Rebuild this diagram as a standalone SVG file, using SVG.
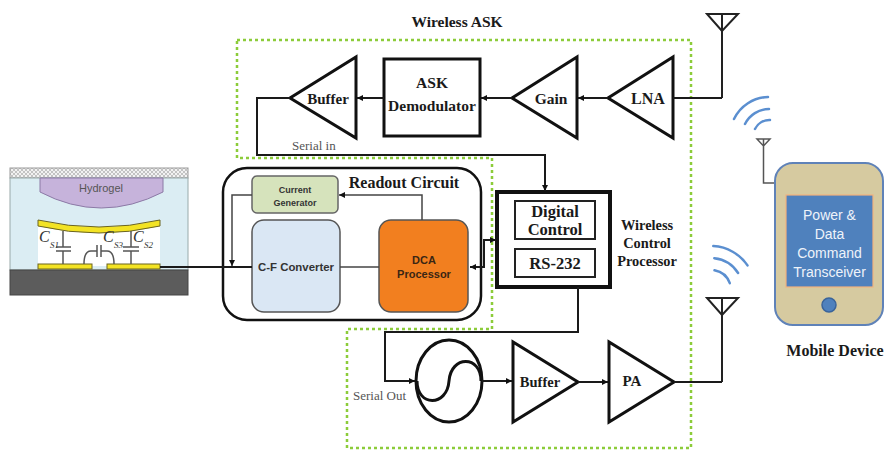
<svg xmlns="http://www.w3.org/2000/svg" width="888" height="452" viewBox="0 0 888 452">
  <defs>
    <marker id="arr" viewBox="0 0 10 10" refX="10" refY="5" markerWidth="6" markerHeight="6" orient="auto-start-reverse" markerUnits="userSpaceOnUse">
      <path d="M0,0 L10,5 L0,10 Z" fill="#111"/>
    </marker>
    <pattern id="hatch" width="4" height="4" patternUnits="userSpaceOnUse">
      <rect width="4" height="4" fill="#f2f2f2"/>
      <path d="M0,0 L4,4 M4,0 L0,4" stroke="#b8b8b8" stroke-width="0.8"/>
    </pattern>
    <style>
      .wire{fill:none;stroke:#1a1a1a;stroke-width:2}
      .thin{fill:none;stroke:#444;stroke-width:1.5}
      .amp{fill:#fff;stroke:#111;stroke-width:3;stroke-linejoin:miter}
      .box{fill:#fff;stroke:#111;stroke-width:3}
      .zone{fill:none;stroke:#8ccc3a;stroke-width:2.5;stroke-dasharray:3 3}
      .ser{font-family:"Liberation Serif","Times New Roman",serif;font-weight:bold;fill:#1a1a1a;text-anchor:middle}
      .lbl{font-family:"Liberation Serif","Times New Roman",serif;fill:#555;font-size:13px}
      .sans{font-family:"Liberation Sans",Arial,sans-serif;font-weight:bold;text-anchor:middle}
      .ant{fill:none;stroke:#222;stroke-width:2}
      .wave{fill:none;stroke:#5b8fd0;stroke-width:2.5;stroke-linecap:round}
      .plate{fill:#f3e324;stroke:#6b6420;stroke-width:1}
      .cap{fill:none;stroke:#555;stroke-width:1.5}
      .cl{font-family:"Liberation Serif","Times New Roman",serif;font-style:italic;fill:#333}
    </style>
  </defs>

  <!-- wireless ASK zone outline -->
  <path class="zone" d="M237,40 H691 V448 H347 V329 H492 V158 H237 Z"/>
  <text class="ser" x="457" y="27" font-size="15.5">Wireless ASK</text>

  <!-- capacitive sensor cross-section -->
  <g id="sensor">
    <rect x="10" y="168" width="178" height="10" fill="url(#hatch)" stroke="#999" stroke-width="1"/>
    <rect x="10" y="178" width="178" height="92" fill="#dbedf3" stroke="#9aa" stroke-width="1"/>
    <rect x="10" y="270" width="178" height="25" fill="#5c5c5c" stroke="#444" stroke-width="1"/>
    <path d="M40,178 H163 V192 Q101,224 40,192 Z" fill="#c6b3db" stroke="#8c7aa6" stroke-width="1"/>
    <text x="101" y="192" font-family="Liberation Sans,Arial,sans-serif" font-size="11" fill="#555" text-anchor="middle">Hydrogel</text>
    <path d="M38,226 Q99,240 160,226 V266 H38 Z" fill="#fff"/>
    <path class="plate" d="M38,220 Q99,234 160,220 L160,226 Q99,240 38,226 Z"/>
    <rect class="plate" x="38" y="264" width="54" height="5"/>
    <rect class="plate" x="107" y="264" width="53" height="5"/>
    <!-- C_S1 -->
    <path class="cap" d="M63,231 V247 M56,247 H71 M56,251 H71 M63,251 V264"/>
    <!-- C_S2 -->
    <path class="cap" d="M131,231 V247 M123,247 H139 M123,251 H139 M131,251 V264"/>
    <!-- C_S3 -->
    <path class="cap" d="M97,245 V257 M101,245 V257 M97,251 H91 Q84,251 84,264 M101,251 H107 Q114,251 114,264"/>
    <text class="cl" x="39" y="242" font-size="16">C</text><text class="cl" x="50" y="248" font-size="9">S1</text>
    <text class="cl" x="103" y="242" font-size="16">C</text><text class="cl" x="114" y="248" font-size="9">S3</text>
    <text class="cl" x="133" y="242" font-size="16">C</text><text class="cl" x="144" y="248" font-size="9">S2</text>
  </g>

  <!-- readout circuit -->
  <g id="readout">
    <rect x="223" y="168" width="258" height="152" rx="24" fill="#fff" stroke="#111" stroke-width="2.5"/>
    <text class="ser" x="404" y="188" font-size="16">Readout Circuit</text>
  </g>
  <g id="current-generator">
    <rect x="252" y="176" width="86" height="37" rx="5" fill="#d6e3bc" stroke="#666" stroke-width="1.5"/>
    <text class="sans" x="295" y="193" font-size="9" fill="#333">Current</text>
    <text class="sans" x="295" y="206" font-size="9" fill="#333">Generator</text>
  </g>
  <g id="cf-converter">
    <rect x="252" y="220" width="88" height="92" rx="12" fill="#dae7f4" stroke="#555" stroke-width="1.5"/>
    <text class="sans" x="296" y="271" font-size="11.4" fill="#333">C-F Converter</text>
  </g>
  <g id="dca-processor">
    <rect x="379" y="220" width="89" height="92" rx="12" fill="#f27f1f" stroke="#555" stroke-width="1.5"/>
    <text class="sans" x="424" y="264" font-size="11" fill="#3a2614">DCA</text>
    <text class="sans" x="424" y="278" font-size="11" fill="#3a2614">Processor</text>
  </g>

  <!-- wireless control processor -->
  <g id="wcp">
    <rect x="497" y="192" width="113" height="95" fill="#fff" stroke="#111" stroke-width="4"/>
    <rect x="515" y="201" width="80" height="38" fill="#fff" stroke="#222" stroke-width="2"/>
    <text class="ser" x="555" y="217" font-size="16.5">Digital</text>
    <text class="ser" x="555" y="235" font-size="16.5">Control</text>
    <rect x="515" y="249" width="80" height="28" fill="#fff" stroke="#222" stroke-width="2"/>
    <text class="ser" x="555" y="269" font-size="16.5">RS-232</text>
    <text class="ser" x="647" y="230" font-size="14.4">Wireless</text>
    <text class="ser" x="647" y="248" font-size="14.4">Control</text>
    <text class="ser" x="647" y="266" font-size="14.4">Processor</text>
  </g>

  <!-- receive chain -->
  <g id="lna">
    <path class="amp" d="M673,57 V138 L608,98 Z"/>
    <text class="ser" x="648" y="104" font-size="16">LNA</text>
  </g>
  <g id="gain">
    <path class="amp" d="M577,57 V138 L512,98 Z"/>
    <text class="ser" x="551" y="104" font-size="15.5">Gain</text>
  </g>
  <g id="ask-demodulator">
    <rect class="box" x="384" y="59" width="96" height="77"/>
    <text class="ser" x="432" y="88" font-size="15.5">ASK</text>
    <text class="ser" x="432" y="111" font-size="15.5">Demodulator</text>
  </g>
  <g id="buffer-rx">
    <path class="amp" d="M356,57 V138 L290,98 Z"/>
    <text class="ser" x="328" y="104" font-size="15">Buffer</text>
  </g>

  <!-- transmit chain -->
  <g id="oscillator">
    <ellipse cx="449" cy="381" rx="33" ry="41" fill="#fff" stroke="#111" stroke-width="3"/>
    <path d="M417,381 C417,407 447,407 449,381 C451,355 481,355 481,381" fill="none" stroke="#111" stroke-width="3"/>
  </g>
  <g id="buffer-tx">
    <path class="amp" d="M513,342 V422 L578,382 Z"/>
    <text class="ser" x="540" y="387" font-size="14.5">Buffer</text>
  </g>
  <g id="pa">
    <path class="amp" d="M609,342 V422 L674,382 Z"/>
    <text class="ser" x="632" y="386" font-size="15">PA</text>
  </g>

  <!-- antennas -->
  <g id="antenna-rx">
    <path class="ant" d="M707,14 H738 L722,31 Z M722,14 V98"/>
  </g>
  <g id="antenna-tx">
    <path class="ant" d="M707,298 H738 L722,315 Z M722,298 V382"/>
    <path class="wave" d="M714.5,270.3 A20,20 0 0 1 729.8,283.2 M714.3,258.2 A32,32 0 0 1 738.1,273 M713.3,246.1 A44,44 0 0 1 747.5,265.4"/>
  </g>
  <g id="antenna-mobile">
    <path d="M757,139 H770 L763.5,146 Z M763.5,139 V183 H775" fill="none" stroke="#555" stroke-width="1.5"/>
    <path class="wave" d="M755,129 A16,16 0 0 1 770,120 M745,124 A27,27 0 0 1 769,109 M734,119 A39,39 0 0 1 768,97"/>
  </g>

  <!-- mobile device -->
  <g id="mobile-device">
    <rect x="775" y="163" width="108" height="162" rx="18" fill="#d6caa0" stroke="#5f82b8" stroke-width="2"/>
    <rect x="786" y="195" width="87" height="92" fill="#4f81bd" stroke="#f2b27e" stroke-width="1.2"/>
    <g font-family="Liberation Sans,Arial,sans-serif" font-size="14" fill="#eef3fa" text-anchor="middle">
      <text x="829.5" y="220">Power &amp;</text>
      <text x="829.5" y="239">Data</text>
      <text x="829.5" y="258">Command</text>
      <text x="829.5" y="277">Transceiver</text>
    </g>
    <circle cx="829" cy="305" r="7" fill="#4f81bd" stroke="#3a649a" stroke-width="1.5"/>
    <text class="ser" x="835" y="356" font-size="16">Mobile Device</text>
  </g>

  <!-- connectors -->
  <g id="connectors">
    <path class="wire" d="M722,98 H673"/>
    <path class="wire" d="M608,98 H578" marker-end="url(#arr)"/>
    <path class="wire" d="M512,98 H481" marker-end="url(#arr)"/>
    <path class="wire" d="M384,98 H357" marker-end="url(#arr)"/>
    <path class="wire" d="M290,98 H257 V155 H545 V191" marker-end="url(#arr)"/>
    <path class="wire" d="M160,267 H252"/>
    <path class="thin" d="M252,195 H232 V266" marker-end="url(#arr)"/>
    <path class="thin" d="M340,267 H379"/>
    <path class="thin" d="M422,220 V195 H339" marker-end="url(#arr)"/>
    <path class="wire" d="M470,267 H484 V240 H496" marker-start="url(#arr)" marker-end="url(#arr)"/>
    <path class="wire" d="M578,287 V332 H385 V381 H415" marker-end="url(#arr)"/>
    <path class="wire" d="M482,381 H512" marker-end="url(#arr)"/>
    <path class="wire" d="M578,382 H608" marker-end="url(#arr)"/>
    <path class="wire" d="M674,382 H722"/>
  </g>

  <text class="lbl" x="292" y="150">Serial in</text>
  <text class="lbl" x="353" y="400">Serial Out</text>
</svg>
